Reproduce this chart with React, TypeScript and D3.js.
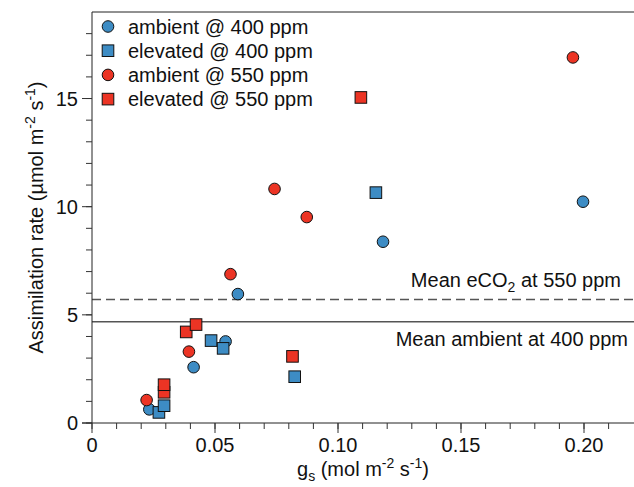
import React from 'react';
import * as d3 from 'd3';

// gs (mol m-2 s-1) and assimilation rate (µmol m-2 s-1) per treatment
const ambient400X = [0.0233, 0.0413, 0.0543, 0.0593, 0.1183, 0.1996];
const ambient400Y = [0.63, 2.58, 3.77, 5.96, 8.38, 10.23];
const elevated400X = [0.0272, 0.0293, 0.0484, 0.0533, 0.0824, 0.1154];
const elevated400Y = [0.49, 0.8, 3.81, 3.45, 2.14, 10.65];
const ambient550X = [0.0222, 0.0394, 0.0563, 0.0742, 0.0873, 0.1955];
const ambient550Y = [1.06, 3.3, 6.88, 10.82, 9.52, 16.9];
const elevated550X = [0.0293, 0.0293, 0.0383, 0.0423, 0.0815, 0.1093];
const elevated550Y = [1.42, 1.77, 4.21, 4.55, 3.08, 15.05];

const meanAmbient400 = 4.68;
const meanECO2550 = 5.71;

const xTicks = [0, 0.05, 0.1, 0.15, 0.2];
const yTicks = [0, 5, 10, 15];

const BLUE = '#3d8cc4';
const RED = '#ec3424';
const FONT = '"Liberation Sans", Arial, Helvetica, sans-serif';

const series = [
  { name: 'ambient @ 400 ppm', xs: ambient400X, ys: ambient400Y, color: BLUE, shape: 'circle' },
  { name: 'elevated @ 400 ppm', xs: elevated400X, ys: elevated400Y, color: BLUE, shape: 'square' },
  { name: 'ambient @ 550 ppm', xs: ambient550X, ys: ambient550Y, color: RED, shape: 'circle' },
  { name: 'elevated @ 550 ppm', xs: elevated550X, ys: elevated550Y, color: RED, shape: 'square' },
];

const W = 634;
const H = 487;
const left = 92, top = 12, right = 634, bottom = 423;

const Marker = ({ x, y, color, shape }: any) =>
  shape === 'circle' ? (
    <circle cx={x} cy={y} r={5.8} fill={color} stroke="#111" strokeWidth={1} />
  ) : (
    <rect x={x - 5.8} y={y - 5.8} width={11.6} height={11.6} fill={color} stroke="#111" strokeWidth={1} />
  );

export default function App() {
  const x = d3.scaleLinear().domain([0, 0.22]).range([left, left + 0.22 * 2460]);
  const y = d3.scaleLinear().domain([0, 19]).range([bottom, top]);

  const xMinor = d3.range(0, 0.215, 0.01);
  const yMinor = d3.range(0, 19, 1);

  return (
    <svg width={W} height={H} style={{ position: 'absolute', left: 0, top: 0, background: '#fff' }}
      fontFamily={FONT}>
      {/* mean lines */}
      <line x1={left} x2={right} y1={y(meanECO2550)} y2={y(meanECO2550)} stroke="#555" strokeWidth={1.3} strokeDasharray="9,5" />
      <line x1={left} x2={right} y1={y(meanAmbient400)} y2={y(meanAmbient400)} stroke="#555" strokeWidth={1.3} />
      <text x={621} y={287} fontSize={20} textAnchor="end" fill="#111">
        Mean eCO<tspan dy={5} fontSize={14}>2</tspan><tspan dy={-5}> at 550 ppm</tspan>
      </text>
      <text x={628} y={346} fontSize={20} textAnchor="end" fill="#111">Mean ambient at 400 ppm</text>

      {/* frame */}
      <line x1={left} x2={right} y1={top} y2={top} stroke="#222" strokeWidth={1} />
      <line x1={left} x2={left} y1={top} y2={bottom} stroke="#222" strokeWidth={1} />
      <line x1={left - 10} x2={right} y1={bottom} y2={bottom} stroke="#222" strokeWidth={1} />

      {/* x ticks */}
      {xMinor.map((t, i) => (
        <line key={'xm' + i} x1={x(t)} x2={x(t)} y1={bottom} y2={bottom + 6} stroke="#333" />
      ))}
      {xTicks.map((t) => (
        <g key={'xt' + t}>
          <line x1={x(t)} x2={x(t)} y1={bottom} y2={bottom + 10} stroke="#333" />
          <text x={x(t)} y={452} fontSize={20} textAnchor="middle" fill="#111">
            {t === 0 ? '0' : d3.format('.2f')(t)}
          </text>
        </g>
      ))}

      {/* y ticks */}
      {yMinor.map((t, i) => (
        <line key={'ym' + i} x1={left - 6} x2={left} y1={y(t)} y2={y(t)} stroke="#333" />
      ))}
      {yTicks.map((t) => (
        <g key={'yt' + t}>
          <line x1={left - 10} x2={left} y1={y(t)} y2={y(t)} stroke="#333" />
          <text x={78} y={y(t)} dy="0.35em" fontSize={20} textAnchor="end" fill="#111">{t}</text>
        </g>
      ))}

      {/* axis titles */}
      <text x={(left + right) / 2} y={476} fontSize={20} textAnchor="middle" fill="#111">
        g<tspan dy={5} fontSize={14}>s</tspan>
        <tspan dy={-5}> (mol m</tspan>
        <tspan dy={-8} fontSize={14}>-2</tspan>
        <tspan dy={8}> s</tspan>
        <tspan dy={-8} fontSize={14}>-1</tspan>
        <tspan dy={8}>)</tspan>
      </text>
      <text transform={`translate(43,${(top + bottom) / 2}) rotate(-90)`} fontSize={20} textAnchor="middle" fill="#111">
        Assimilation rate (µmol m<tspan dy={-8} fontSize={14}>-2</tspan>
        <tspan dy={8}> s</tspan>
        <tspan dy={-8} fontSize={14}>-1</tspan>
        <tspan dy={8}>)</tspan>
      </text>

      {/* points */}
      {series.map((s) => (
        <g key={s.name}>
          {s.xs.map((v, i) => (
            <Marker key={i} x={x(v)} y={y(s.ys[i])} color={s.color} shape={s.shape} />
          ))}
        </g>
      ))}

      {/* legend */}
      {series.map((s, i) => (
        <g key={'lg' + s.name} transform={`translate(108,${26.5 + i * 24.2})`}>
          <Marker x={0} y={0} color={s.color} shape={s.shape} />
          <text x={20} y={7} fontSize={20} fill="#111">{s.name}</text>
        </g>
      ))}
    </svg>
  );
}
